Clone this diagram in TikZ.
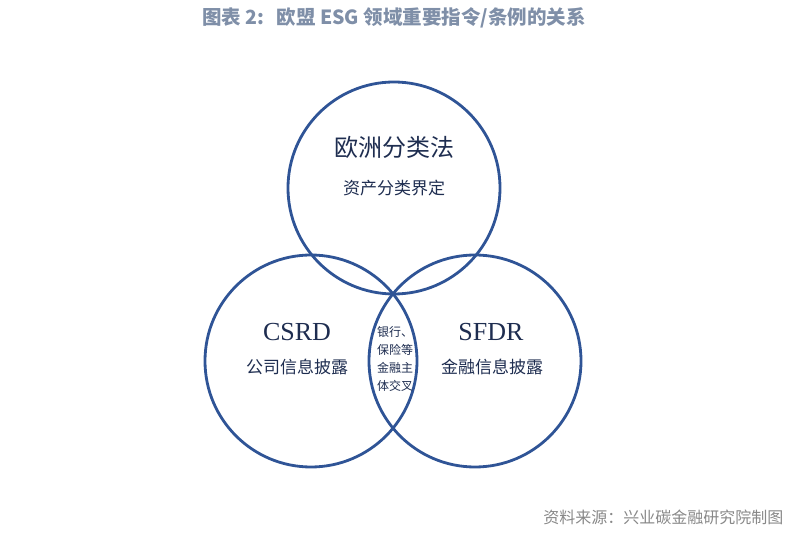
\documentclass[tikz,border=0pt]{standalone}
\usepackage{fontspec}
\setmainfont{Liberation Serif}
\newfontfamily\cjk{Noto Sans CJK SC}
\definecolor{ringblue}{RGB}{47,84,150}
\definecolor{textnavy}{RGB}{30,45,80}
\definecolor{titlegray}{RGB}{127,143,168}
\definecolor{srcgray}{RGB}{136,136,136}
\tikzset{
  ring/.style={circle, draw=ringblue, line width=2.8pt, minimum size=212pt, inner sep=0pt},
  bigcjk/.style={text=textnavy, font=\cjk\fontsize{24}{28}\selectfont},
  subcjk/.style={text=textnavy, font=\cjk\fontsize{17}{20}\selectfont},
  latin/.style={text=textnavy, font=\fontsize{26}{30}\selectfont},
  lens/.style={text=textnavy, align=center, font=\cjk\fontsize{12}{18}\selectfont}
}
\begin{document}
\begin{tikzpicture}[x=1pt,y=-1pt]
\useasboundingbox (0,0) rectangle (795,534);
\node[text=titlegray, font=\cjk\bfseries\fontsize{19.5}{23}\selectfont] (title) at (394,18) {图表 2:\hspace{12pt}欧盟 ESG 领域重要指令/条例的关系};
\node[ring] (top) at (394,188) {};
\node[ring] (left) at (311,361) {};
\node[ring] (right) at (475,361) {};
\node[bigcjk] (toptitle) at (394,147) {欧洲分类法};
\node[subcjk] (topsub) at (394,188) {资产分类界定};
\node[latin] (csrd) at (297,332) {CSRD};
\node[subcjk] (csrdsub) at (297,367) {公司信息披露};
\node[latin] (sfdr) at (491,332) {SFDR};
\node[subcjk] (sfdrsub) at (492,367) {金融信息披露};
\node[lens] (lenstext) at (395,359) {银行、\\保险等\\金融主\\体交叉};
\node[text=srcgray, font=\cjk\fontsize{16}{19}\selectfont, anchor=east] (source) at (787,517) {资料来源：兴业碳金融研究院制图};
\end{tikzpicture}
\end{document}
